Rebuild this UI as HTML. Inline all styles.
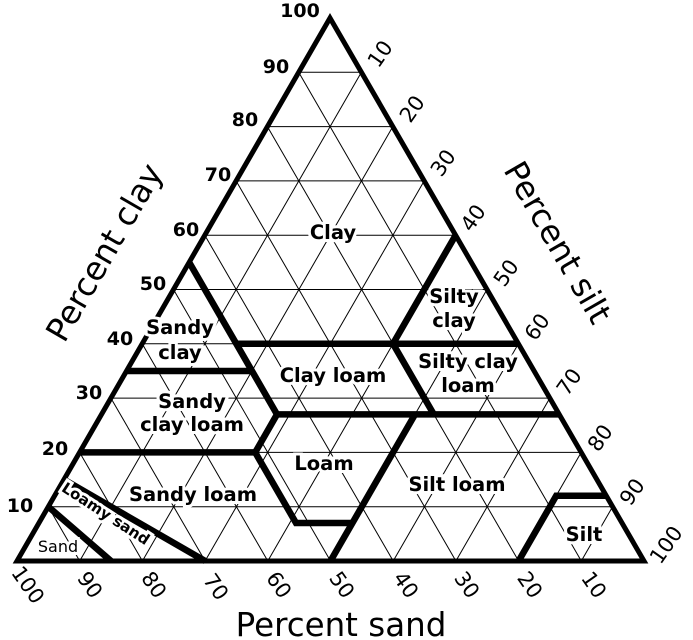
<!DOCTYPE html>
<html><head><meta charset="utf-8"><style>
html,body{margin:0;padding:0;background:#fff;}
svg{display:block;}
text{font-family:"DejaVu Sans","Liberation Sans",sans-serif;fill:#000;}
.lab{font-size:19.5px;font-weight:bold;text-anchor:middle;paint-order:stroke;stroke:#fff;stroke-width:6px;}
.num{font-size:19px;font-weight:bold;text-anchor:middle;}
.rn{font-size:21px;text-anchor:middle;}
.ttl{font-size:32.5px;text-anchor:middle;}
</style></head><body>
<svg width="693" height="640" viewBox="0 0 693 640" xmlns="http://www.w3.org/2000/svg">
<g stroke="#000" stroke-width="1" fill="none">
<line x1="48.3" y1="506.7" x2="612.6" y2="506.7"/>
<line x1="79.6" y1="452.4" x2="581.2" y2="452.4"/>
<line x1="110.9" y1="398.1" x2="549.8" y2="398.1"/>
<line x1="142.2" y1="343.8" x2="518.4" y2="343.8"/>
<line x1="173.5" y1="289.5" x2="487" y2="289.5"/>
<line x1="204.8" y1="235.2" x2="455.6" y2="235.2"/>
<line x1="236.1" y1="180.9" x2="424.2" y2="180.9"/>
<line x1="267.4" y1="126.6" x2="392.8" y2="126.6"/>
<line x1="298.7" y1="72.3" x2="361.4" y2="72.3"/>
<line x1="581.3" y1="561" x2="298.7" y2="72.3"/>
<line x1="518.6" y1="561" x2="267.4" y2="126.6"/>
<line x1="455.9" y1="561" x2="236.1" y2="180.9"/>
<line x1="393.2" y1="561" x2="204.8" y2="235.2"/>
<line x1="330.5" y1="561" x2="173.5" y2="289.5"/>
<line x1="267.8" y1="561" x2="142.2" y2="343.8"/>
<line x1="205.1" y1="561" x2="110.9" y2="398.1"/>
<line x1="142.4" y1="561" x2="79.6" y2="452.4"/>
<line x1="79.7" y1="561" x2="48.3" y2="506.7"/>
<line x1="79.7" y1="561" x2="361.4" y2="72.3"/>
<line x1="142.4" y1="561" x2="392.8" y2="126.6"/>
<line x1="205.1" y1="561" x2="424.2" y2="180.9"/>
<line x1="267.8" y1="561" x2="455.6" y2="235.2"/>
<line x1="330.5" y1="561" x2="487" y2="289.5"/>
<line x1="393.2" y1="561" x2="518.4" y2="343.8"/>
<line x1="455.9" y1="561" x2="549.8" y2="398.1"/>
<line x1="518.6" y1="561" x2="581.2" y2="452.4"/>
<line x1="581.3" y1="561" x2="612.6" y2="506.7"/>
</g>
<g stroke="#000" stroke-width="6.5" fill="none" stroke-linejoin="miter">
<polyline points="189.2,262.4 236.3,343.8 252,371 277,414.4"/>
<line x1="126.6" y1="371" x2="252" y2="371"/>
<line x1="236.3" y1="343.8" x2="518.4" y2="343.8"/>
<polyline points="455.6,235.2 393,343.8 433.8,414.4"/>
<line x1="277" y1="414.4" x2="559.2" y2="414.4"/>
<line x1="79.6" y1="452.4" x2="255.2" y2="452.4"/>
<polyline points="277,414.4 255.2,452.4 296,523 352.4,523"/>
<polyline points="415,414.4 330.5,561"/>
<polyline points="518.6,561 556.2,495.8 606.3,495.8"/>
<line x1="64" y1="479.6" x2="205.1" y2="561"/>
<line x1="48.3" y1="506.7" x2="111" y2="561"/>
</g>
<polygon points="330,18 644,561 17,561" fill="none" stroke="#000" stroke-width="5" stroke-linejoin="miter"/>
<text class="lab" x="333" y="239">Clay</text>
<text class="lab" x="454" y="303">Silty</text>
<text class="lab" x="454" y="327">clay</text>
<text class="lab" x="180" y="334">Sandy</text>
<text class="lab" x="180" y="359">clay</text>
<text class="lab" x="333" y="382">Clay loam</text>
<text class="lab" x="468" y="368">Silty clay</text>
<text class="lab" x="468" y="392">loam</text>
<text class="lab" x="192" y="408">Sandy</text>
<text class="lab" x="192" y="431">clay loam</text>
<text class="lab" x="324" y="470">Loam</text>
<text class="lab" x="193" y="501">Sandy loam</text>
<text class="lab" x="457" y="491">Silt loam</text>
<text class="lab" x="584" y="541">Silt</text>
<text class="lab" x="58" y="552" style="font-size:16px;font-weight:normal">Sand</text>
<text class="lab" x="0" y="0" style="font-size:15px" transform="translate(103,518) rotate(33)">Loamy sand</text>
<text class="num" x="300" y="17">100</text>
<text class="num" x="276" y="73">90</text>
<text class="num" x="245" y="126">80</text>
<text class="num" x="218" y="181">70</text>
<text class="num" x="186" y="236">60</text>
<text class="num" x="153" y="290">50</text>
<text class="num" x="120" y="345">40</text>
<text class="num" x="89" y="399">30</text>
<text class="num" x="55" y="455">20</text>
<text class="num" x="20" y="512">10</text>
<text class="rn" transform="translate(386,58) rotate(-55)">10</text>
<text class="rn" transform="translate(418,113) rotate(-55)">20</text>
<text class="rn" transform="translate(449,167) rotate(-55)">30</text>
<text class="rn" transform="translate(479,222) rotate(-55)">40</text>
<text class="rn" transform="translate(512,277) rotate(-55)">50</text>
<text class="rn" transform="translate(543,331) rotate(-55)">60</text>
<text class="rn" transform="translate(575,386) rotate(-55)">70</text>
<text class="rn" transform="translate(606,442) rotate(-55)">80</text>
<text class="rn" transform="translate(638,496) rotate(-55)">90</text>
<text class="rn" transform="translate(672,549) rotate(-55)">100</text>
<text class="rn" transform="translate(22,589) rotate(55)">100</text>
<text class="rn" transform="translate(84,589) rotate(55)">90</text>
<text class="rn" transform="translate(148,589) rotate(55)">80</text>
<text class="rn" transform="translate(210,591) rotate(55)">70</text>
<text class="rn" transform="translate(273,589) rotate(55)">60</text>
<text class="rn" transform="translate(336,589) rotate(55)">50</text>
<text class="rn" transform="translate(400,589) rotate(55)">40</text>
<text class="rn" transform="translate(461,589) rotate(55)">30</text>
<text class="rn" transform="translate(524,589) rotate(55)">20</text>
<text class="rn" transform="translate(588,589) rotate(55)">10</text>
<text class="ttl" transform="translate(114,258) rotate(-60)">Percent clay</text>
<text class="ttl" transform="translate(548,248) rotate(60)">Percent silt</text>
<text class="ttl" x="341" y="636">Percent sand</text>
</svg>
</body></html>
